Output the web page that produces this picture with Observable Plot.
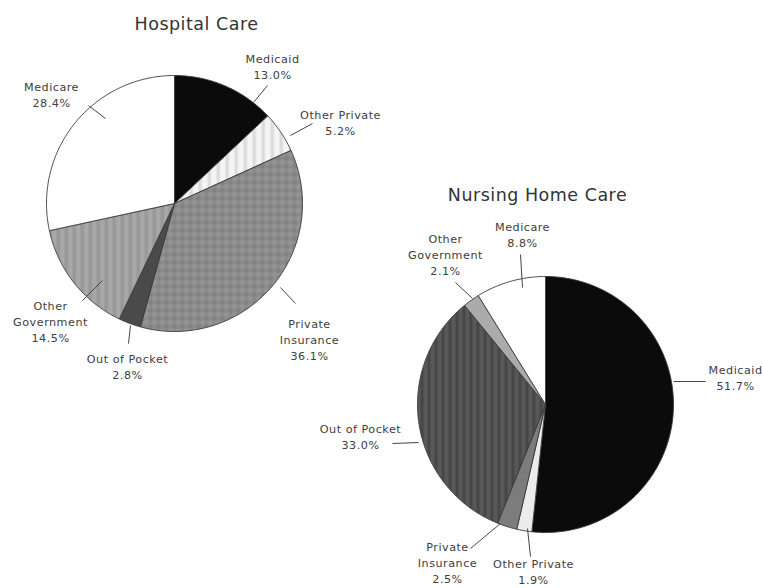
<!DOCTYPE html>
<html>
<head>
<meta charset="utf-8">
<script src="https://cdn.jsdelivr.net/npm/d3@7"></script>
<script src="https://cdn.jsdelivr.net/npm/@observablehq/plot@0.6"></script>
<style>
  html, body { margin: 0; padding: 0; background: #fff; }
</style>
</head>
<body>
<div id="chart"></div>
<script>
// ---- data ----
const categories = ["Medicaid", "Other Private", "Private Insurance", "Out of Pocket", "Other Government", "Medicare"];
const labelNames = ["Medicaid", "Other Private", "Private\nInsurance", "Out of Pocket", "Other\nGovernment", "Medicare"];
const hospitalShares = [13.0, 5.2, 36.1, 2.8, 14.5, 28.4];
const nursingShares = [51.7, 1.9, 2.5, 33.0, 2.1, 8.8];
const chartTitles = ["Hospital Care", "Nursing Home Care"];

// ---- styling / layout ----
const W = 763, H = 588;
const hospitalFills = ["#0b0b0b", "url(#pHOtherPriv)", "url(#pHPrivIns)", "#4a4a4a", "url(#pHOtherGov)", "#ffffff"];
const nursingFills = ["#0b0b0b", "#ececec", "#7c7c7c", "url(#pNOOP)", "#ababab", "#ffffff"];
const pies = [
  {title: chartTitles[0], shares: hospitalShares, fills: hospitalFills, cx: 174, cy: 203, r: 128, titleX: 196, titleY: 24,
   // label centre [x,y] and leader [x1,y1,x2,y2], per category order
   labels: [[272, 65], [340, 121], [309, 338], [127, 365], [50, 320], [51, 93]],
   leaders: [[253, 102, 267, 85], [290, 135, 312, 123], [280, 287, 295, 303], [130, 325, 128, 343], [102, 280, 82, 300], [105, 118, 88, 105]]},
  {title: chartTitles[1], shares: nursingShares, fills: nursingFills, cx: 545, cy: 404, r: 128, titleX: 537, titleY: 195,
   labels: [[735, 376], [533, 570], [447, 561], [360, 435], [445, 253], [522, 233]],
   leaders: [[673, 381, 705, 381], [527, 528, 530, 556], [500, 523, 470, 548], [418, 442, 392, 443], [472, 298, 455, 282], [522, 287, 520, 254]]}
];

const marks = [];
for (const p of pies) {
  const arcs = d3.pie().sort(null).value(d => d)(p.shares);
  arcs.forEach((a, i) => {
    const pts = [{x: p.cx, y: p.cy}];
    const n = Math.max(2, Math.ceil((a.endAngle - a.startAngle) / (Math.PI / 180)));
    for (let k = 0; k <= n; k++) {
      const t = a.startAngle + (a.endAngle - a.startAngle) * k / n;
      pts.push({x: p.cx + p.r * Math.sin(t), y: p.cy - p.r * Math.cos(t)});
    }
    pts.push({x: p.cx, y: p.cy});
    marks.push(Plot.line(pts, {x: "x", y: "y", fill: p.fills[i], stroke: "#3a3a3a", strokeWidth: 0.9, strokeLinejoin: "round"}));
  });
  const lab = categories.map((c, i) => ({
    text: labelNames[i] + "\n" + p.shares[i].toFixed(1) + "%",
    x: p.labels[i][0], y: p.labels[i][1],
    x1: p.leaders[i][0], y1: p.leaders[i][1], x2: p.leaders[i][2], y2: p.leaders[i][3]
  }));
  marks.push(Plot.link(lab, {x1: "x1", y1: "y1", x2: "x2", y2: "y2", stroke: "#444", strokeWidth: 1}));
  marks.push(Plot.text(lab, {x: "x", y: "y", text: "text", fontSize: 11.2, lineHeight: 1.43, fill: "#404040", fontFamily: "DejaVu Sans"}));
  marks.push(Plot.text([p.title], {x: () => p.titleX, y: () => p.titleY, text: d => d, fontSize: 17.5, fill: "#333", fontFamily: "DejaVu Sans"}));
}

const svg = Plot.plot({
  width: W, height: H, margin: 0,
  x: {domain: [0, W], range: [0, W], axis: null},
  y: {domain: [0, H], range: [0, H], axis: null},
  style: {background: "#fff", fontFamily: "DejaVu Sans", letterSpacing: "0.5px"},
  marks
});

// pattern definitions for the textured slices
const defs = `
<defs>
  <pattern id="pHOtherPriv" patternUnits="userSpaceOnUse" width="9" height="9">
    <rect width="9" height="9" fill="#f4f4f4"/><rect x="0" width="3.5" height="9" fill="#dcdcdc"/>
  </pattern>
  <pattern id="pHPrivIns" patternUnits="userSpaceOnUse" width="8" height="8">
    <rect width="8" height="8" fill="#8b8b8b"/><rect x="0" y="0" width="4" height="4" fill="#959595"/><rect x="4" y="4" width="4" height="4" fill="#828282"/>
  </pattern>
  <pattern id="pHOtherGov" patternUnits="userSpaceOnUse" width="8" height="8">
    <rect width="8" height="8" fill="#a8a8a8"/><rect x="0" width="3.5" height="8" fill="#989898"/>
  </pattern>
  <pattern id="pNOOP" patternUnits="userSpaceOnUse" width="7" height="7">
    <rect width="7" height="7" fill="#585858"/><rect x="0" width="3" height="7" fill="#474747"/>
  </pattern>
</defs>`;
svg.insertAdjacentHTML("afterbegin", defs);
document.getElementById("chart").appendChild(svg);
</script>
</body>
</html>
